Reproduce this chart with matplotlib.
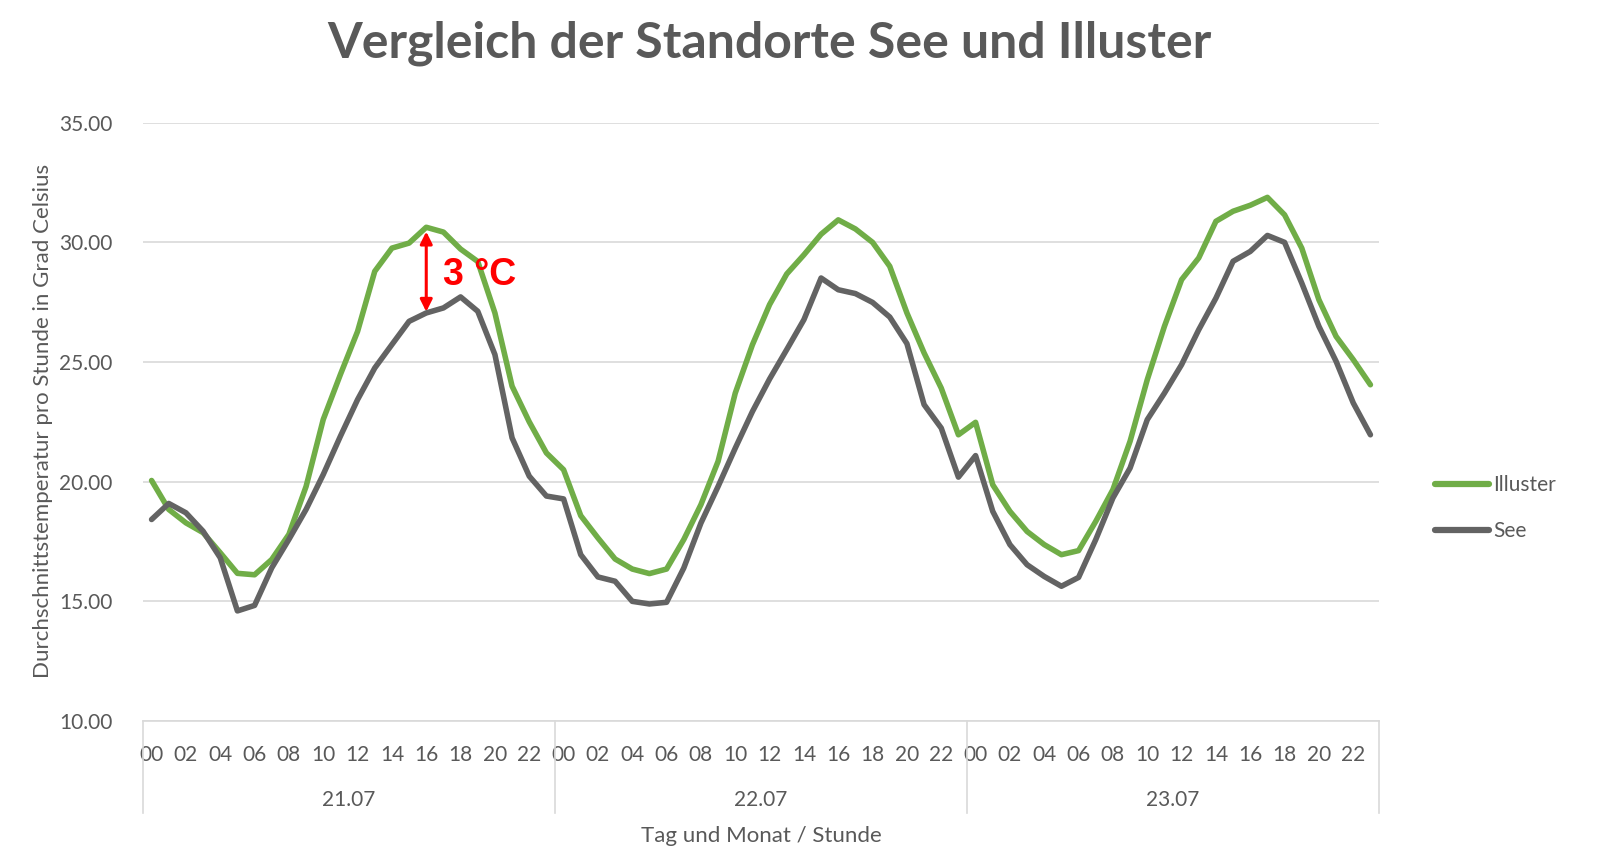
import matplotlib
matplotlib.use("Agg")
import matplotlib.pyplot as plt
from matplotlib.transforms import blended_transform_factory
import numpy as np

plt.rcParams['font.family'] = ['Lato', 'DejaVu Sans']

days = ["21.07", "22.07", "23.07"]
hour_labels_shown = ["%02d" % h for h in range(0, 24, 2)]

illuster = [
    20.05, 18.84, 18.28, 17.87, 17.03, 16.17, 16.11, 16.75, 17.80, 19.80, 22.60, 24.48,
    26.28, 28.79, 29.76, 29.97, 30.63, 30.43, 29.72, 29.20, 27.05, 23.99, 22.50, 21.20,
    20.50, 18.58, 17.65, 16.77, 16.35, 16.16, 16.35, 17.58, 19.04, 20.85, 23.70, 25.72,
    27.40, 28.68, 29.48, 30.34, 30.94, 30.56, 30.00, 29.00, 27.05, 25.38, 23.91, 21.96,
    22.48, 19.87, 18.76, 17.92, 17.37, 16.95, 17.12, 18.34, 19.67, 21.69, 24.26, 26.49,
    28.44, 29.35, 30.88, 31.30, 31.55, 31.88, 31.15, 29.76, 27.60, 26.07, 25.10, 24.05,
]
see = [
    18.42, 19.09, 18.70, 17.93, 16.82, 14.60, 14.83, 16.40, 17.59, 18.84, 20.30, 21.90,
    23.43, 24.75, 25.73, 26.70, 27.05, 27.26, 27.72, 27.12, 25.31, 21.83, 20.23, 19.40,
    19.28, 16.95, 16.02, 15.84, 15.00, 14.89, 14.96, 16.39, 18.27, 19.80, 21.40, 22.93,
    24.29, 25.52, 26.77, 28.51, 28.02, 27.86, 27.49, 26.88, 25.77, 23.22, 22.24, 20.19,
    21.09, 18.76, 17.37, 16.53, 16.04, 15.63, 16.00, 17.58, 19.32, 20.57, 22.59, 23.70,
    24.89, 26.35, 27.67, 29.21, 29.62, 30.29, 30.00, 28.30, 26.49, 25.03, 23.29, 21.96,
]

series_names = ["Illuster", "See"]
colors = ["#70AD47", "#636363"]
text_gray = "#595959"
grid_gray = "#D9D9D9"

W, H = 1603, 848
fig = plt.figure(figsize=(W / 100, H / 100), dpi=100)
left, right, top, bottom = 143, 1379, 122.7, 721
ax = fig.add_axes([left / W, 1 - bottom / H, (right - left) / W, (bottom - top) / H])

n = len(illuster)
x = np.arange(n)
for vals, name, c in zip([illuster, see], series_names, colors):
    ax.plot(x, vals, color=c, lw=4.0, label=name, solid_capstyle='round',
            solid_joinstyle='round', zorder=3)

ax.set_xlim(-0.5, n - 0.5)
ax.set_ylim(10, 35)
yt = np.arange(10, 35.1, 5)
ax.set_yticks(yt)
ax.set_yticklabels(["%.2f" % v for v in yt])
ax.yaxis.grid(True, color=grid_gray, lw=1.2)
ax.set_axisbelow(True)
for s in ["top", "right", "left"]:
    ax.spines[s].set_visible(False)
ax.spines["bottom"].set_color(grid_gray)
ax.spines["bottom"].set_linewidth(1.2)

xt = [d * 24 + h for d in range(len(days)) for h in range(0, 24, 2)]
ax.set_xticks(xt)
ax.set_xticklabels(hour_labels_shown * len(days))
ax.tick_params(axis='x', length=0, pad=17, labelsize=15, labelcolor=text_gray)
ax.tick_params(axis='y', length=0, pad=22, labelsize=15, labelcolor=text_gray)

axh = bottom - top
trans = blended_transform_factory(ax.transData, ax.transAxes)
for b in range(len(days) + 1):
    xb = b * 24 - 0.5
    ax.plot([xb, xb], [0, -(813 - bottom) / axh], transform=trans, color=grid_gray, lw=1.2,
            clip_on=False)
for d, lab in enumerate(days):
    ax.text(d * 24 + 11.5, -(800 - bottom) / axh, lab, transform=trans, ha='center', va='center',
            fontsize=15, color=text_gray)

fig.text((left + right) / 2 / W, 1 - 836 / H, "Tag und Monat / Stunde", ha='center', va='center',
         fontsize=16, color=text_gray)
fig.text(43 / W, 1 - 421 / H, "Durchschnittstemperatur pro Stunde in Grad Celsius", rotation=90,
         ha='center', va='center', fontsize=16, color=text_gray)
fig.text(769 / W, 1 - 43 / H, "Vergleich der Standorte See und Illuster", ha='center', va='center',
         fontsize=36, fontweight='bold', color=text_gray)

# annotation: difference arrow at 16:00 on 21.07
ax.annotate("", xy=(16, 27.1), xytext=(16, 30.45),
            arrowprops=dict(arrowstyle='<|-|>', color='#FF0000', lw=2.2, mutation_scale=18,
                            shrinkA=0, shrinkB=0), zorder=4)
ax.text(17.0, 28.65, "3 °C", color='#FF0000', fontsize=27, fontweight='bold',
        family=['Liberation Sans', 'DejaVu Sans'], ha='left', va='center', zorder=4)

leg = ax.legend(loc='center left', bbox_to_anchor=(1435 / W, 1 - 508 / H),
                bbox_transform=fig.transFigure, frameon=False, fontsize=15, handlelength=2.6,
                handletextpad=0.2, labelspacing=1.25, borderaxespad=0, borderpad=0)
for t in leg.get_texts():
    t.set_color(text_gray)
for l in leg.get_lines():
    l.set_linewidth(4.5)
    l.set_solid_capstyle('round')

fig.savefig("out.png", dpi=100)
